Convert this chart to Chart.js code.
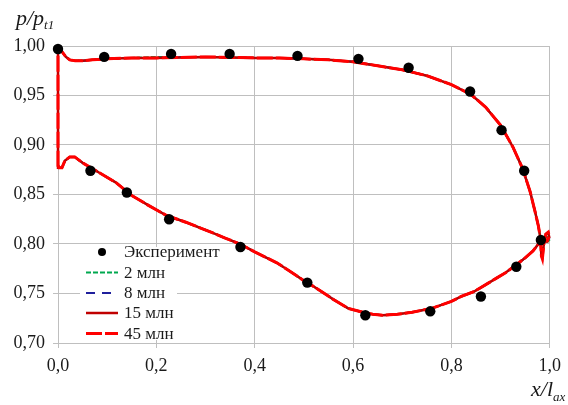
<!DOCTYPE html>
<html>
<head>
<meta charset="utf-8">
<script src="https://cdn.jsdelivr.net/npm/chart.js@4.4.1/dist/chart.umd.min.js"></script>
<style>
  html, body { margin: 0; padding: 0; background: #ffffff; }
  #wrap { width: 568px; height: 405px; position: relative; }
</style>
</head>
<body>
<div id="wrap"><canvas id="c" width="568" height="405"></canvas></div>
<script>
// ---- Data ----
const yTickLabels = ['0,70', '0,75', '0,80', '0,85', '0,90', '0,95', '1,00'];
const xTickLabels = ['0,0', '0,2', '0,4', '0,6', '0,8', '1,0'];

const seriesNames = ['Эксперимент', '2 млн', '8 млн', '15 млн', '45 млн'];

// experiment points
const expX = [0.000, 0.094, 0.230, 0.349, 0.487, 0.611, 0.713, 0.838, 0.902, 0.948, 0.982,
              0.066, 0.140, 0.226, 0.371, 0.507, 0.625, 0.757, 0.860, 0.932];
const expY = [0.997, 0.989, 0.992, 0.992, 0.990, 0.987, 0.978, 0.954, 0.915, 0.874, 0.804,
              0.874, 0.852, 0.825, 0.797, 0.761, 0.728, 0.732, 0.747, 0.777];

// blade profile path (suction side LE->TE, trailing-edge loop, pressure side TE->LE)
const profileX = [0.000, 0.000, 0.004, 0.010, 0.016, 0.024, 0.035, 0.050, 0.070, 0.100,
                  0.150, 0.200, 0.300, 0.400, 0.450, 0.500, 0.550, 0.600, 0.650, 0.700,
                  0.750, 0.800, 0.840, 0.870, 0.900, 0.925, 0.945, 0.960, 0.970, 0.977,
                  0.981, 0.983, 0.985, 0.988, 0.992, 0.997, 0.999, 0.995, 0.980, 0.966,
                  0.950, 0.932, 0.910, 0.890, 0.860, 0.846, 0.820, 0.800, 0.760, 0.720,
                  0.690, 0.660, 0.640, 0.620, 0.590, 0.560, 0.545, 0.520, 0.500, 0.470,
                  0.445, 0.400, 0.370, 0.340, 0.311, 0.260, 0.220, 0.184, 0.150, 0.118,
                  0.084, 0.050, 0.034, 0.024, 0.014, 0.008, 0.002, 0.000];

const y2mln  = [0.878, 0.998, 0.997, 0.993, 0.989, 0.986, 0.985, 0.985, 0.986, 0.987,
                0.988, 0.989, 0.989, 0.988, 0.988, 0.987, 0.986, 0.984, 0.980, 0.976,
                0.970, 0.961, 0.951, 0.938, 0.920, 0.898, 0.876, 0.853, 0.833, 0.818,
                0.806, 0.790, 0.788, 0.800, 0.808, 0.806, 0.804, 0.802, 0.802, 0.793,
                0.786, 0.779, 0.771, 0.765, 0.756, 0.752, 0.747, 0.742, 0.735, 0.731,
                0.729, 0.728, 0.729, 0.731, 0.735, 0.744, 0.749, 0.757, 0.763, 0.773,
                0.781, 0.792, 0.800, 0.806, 0.812, 0.822, 0.829, 0.839, 0.849, 0.862,
                0.872, 0.882, 0.888, 0.888, 0.884, 0.877, 0.877, 0.880];
const y8mln  = [0.878, 0.998, 0.997, 0.993, 0.989, 0.986, 0.985, 0.985, 0.986, 0.987,
                0.988, 0.988, 0.989, 0.988, 0.988, 0.987, 0.986, 0.984, 0.980, 0.976,
                0.970, 0.961, 0.951, 0.938, 0.920, 0.898, 0.876, 0.853, 0.833, 0.818,
                0.806, 0.789, 0.787, 0.800, 0.809, 0.810, 0.806, 0.803, 0.802, 0.793,
                0.786, 0.779, 0.771, 0.765, 0.756, 0.752, 0.747, 0.742, 0.735, 0.731,
                0.729, 0.728, 0.729, 0.731, 0.735, 0.744, 0.749, 0.757, 0.763, 0.773,
                0.781, 0.792, 0.800, 0.806, 0.812, 0.822, 0.829, 0.839, 0.849, 0.862,
                0.872, 0.882, 0.888, 0.888, 0.884, 0.877, 0.877, 0.880];
const y15mln = [0.878, 0.998, 0.997, 0.993, 0.989, 0.986, 0.985, 0.985, 0.986, 0.987,
                0.988, 0.988, 0.989, 0.988, 0.988, 0.987, 0.986, 0.984, 0.980, 0.976,
                0.970, 0.961, 0.951, 0.938, 0.920, 0.898, 0.876, 0.853, 0.833, 0.818,
                0.806, 0.788, 0.786, 0.800, 0.810, 0.811, 0.807, 0.803, 0.802, 0.793,
                0.786, 0.779, 0.771, 0.765, 0.756, 0.752, 0.747, 0.742, 0.735, 0.731,
                0.729, 0.728, 0.729, 0.731, 0.735, 0.744, 0.749, 0.757, 0.763, 0.773,
                0.781, 0.792, 0.800, 0.806, 0.812, 0.822, 0.829, 0.839, 0.849, 0.862,
                0.872, 0.882, 0.888, 0.888, 0.884, 0.877, 0.877, 0.880];
const y45mln = [0.878, 0.998, 0.997, 0.993, 0.989, 0.986, 0.985, 0.985, 0.986, 0.987,
                0.988, 0.988, 0.989, 0.988, 0.988, 0.987, 0.986, 0.984, 0.980, 0.976,
                0.970, 0.961, 0.951, 0.938, 0.920, 0.898, 0.876, 0.853, 0.833, 0.818,
                0.806, 0.788, 0.785, 0.800, 0.810, 0.812, 0.808, 0.803, 0.802, 0.793,
                0.786, 0.779, 0.771, 0.765, 0.756, 0.752, 0.747, 0.742, 0.735, 0.731,
                0.729, 0.728, 0.729, 0.731, 0.735, 0.744, 0.749, 0.757, 0.763, 0.773,
                0.781, 0.792, 0.800, 0.806, 0.812, 0.822, 0.829, 0.839, 0.849, 0.862,
                0.872, 0.882, 0.888, 0.888, 0.884, 0.877, 0.877, 0.880];

// ---- build datasets ----
const pts = (xs, ys) => xs.map((x, i) => ({ x: x, y: ys[i] }));
const SERIF = '"Liberation Serif", "DejaVu Serif", "Times New Roman", Times, serif';

const datasets = [
  { label: seriesNames[0], data: pts(expX, expY), showLine: false, pointRadius: 5.2,
    pointBackgroundColor: '#000', pointBorderColor: '#000', pointBorderWidth: 0, order: 0,
    clip: false, legendKind: 'dot' },
  { label: seriesNames[1], data: pts(profileX, y2mln), showLine: true, pointRadius: 0,
    borderColor: '#00a84f', borderWidth: 2, borderDash: [5, 2], order: 4, tension: 0, clip: false },
  { label: seriesNames[2], data: pts(profileX, y8mln), showLine: true, pointRadius: 0,
    borderColor: '#1f1f9c', borderWidth: 2, borderDash: [9, 7], order: 3, tension: 0, clip: false },
  { label: seriesNames[3], data: pts(profileX, y15mln), showLine: true, pointRadius: 0,
    borderColor: '#c00000', borderWidth: 2.5, order: 2, tension: 0, clip: false },
  { label: seriesNames[4], data: pts(profileX, y45mln), showLine: true, pointRadius: 0,
    borderColor: '#ff0000', borderWidth: 3, borderDash: [16, 3], order: 1, tension: 0, clip: false }
];

// legend + axis titles drawn on top
const overlay = {
  id: 'overlay',
  afterDraw(chart) {
    const ctx = chart.ctx;
    ctx.save();
    // legend box
    ctx.fillStyle = '#ffffff';
    ctx.fillRect(80, 247, 97, 93);
    const rows = [252, 272.5, 293, 313, 333.5];
    chart.data.datasets.forEach((ds, i) => {
      const y = rows[i];
      if (ds.legendKind === 'dot') {
        ctx.fillStyle = '#000';
        ctx.beginPath();
        ctx.arc(102, y, 4, 0, Math.PI * 2);
        ctx.fill();
      } else {
        ctx.strokeStyle = ds.borderColor;
        ctx.lineWidth = ds.borderWidth;
        ctx.setLineDash(ds.borderDash || []);
        ctx.beginPath();
        ctx.moveTo(86, y);
        ctx.lineTo(118, y);
        ctx.stroke();
        ctx.setLineDash([]);
      }
      ctx.fillStyle = '#1a1a1a';
      ctx.font = '17px ' + SERIF;
      ctx.textBaseline = 'middle';
      ctx.textAlign = 'left';
      ctx.fillText(ds.label, 124, y + 1);
    });
    // axis titles
    ctx.fillStyle = '#1a1a1a';
    ctx.textBaseline = 'alphabetic';
    ctx.font = 'italic 22px ' + SERIF;
    ctx.fillText('p/p', 16, 25);
    let w = ctx.measureText('p/p').width;
    ctx.font = 'italic 13px ' + SERIF;
    ctx.fillText('t1', 16 + w, 29);

    ctx.font = 'italic 22px ' + SERIF;
    ctx.fillText('x/l', 531, 396);
    w = ctx.measureText('x/l').width;
    ctx.font = 'italic 13px ' + SERIF;
    ctx.fillText('ax', 531 + w, 401);
    ctx.restore();
  }
};

new Chart(document.getElementById('c'), {
  type: 'scatter',
  data: { datasets: datasets },
  plugins: [overlay],
  options: {
    responsive: false,
    animation: false,
    events: [],
    layout: { padding: { left: 0, top: 46, right: 11, bottom: 0 } },
    plugins: { legend: { display: false }, tooltip: { enabled: false } },
    scales: {
      x: {
        type: 'linear', min: 0, max: 1,
        ticks: {
          stepSize: 0.2, padding: 7, color: '#1a1a1a',
          font: { family: SERIF, size: 18 },
          callback: (v, i) => xTickLabels[i]
        },
        grid: { color: '#bfbfbf', lineWidth: 1, tickLength: 5 },
        border: { color: '#bfbfbf' },
        afterFit: (s) => { s.height = 62; }
      },
      y: {
        type: 'linear', min: 0.7, max: 1.0,
        ticks: {
          stepSize: 0.05, padding: 8, color: '#1a1a1a',
          font: { family: SERIF, size: 18 },
          callback: (v, i) => yTickLabels[i]
        },
        grid: { color: '#bfbfbf', lineWidth: 1, tickLength: 5 },
        border: { color: '#bfbfbf' },
        afterFit: (s) => { s.width = 58; }
      }
    }
  }
});
</script>
</body>
</html>
